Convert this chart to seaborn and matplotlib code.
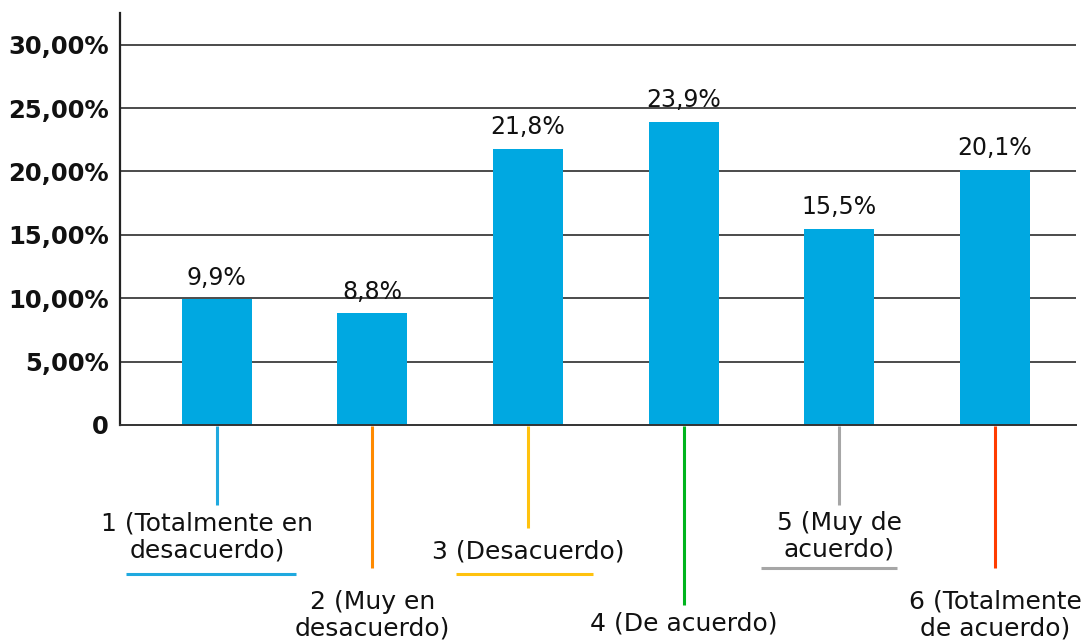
import matplotlib
matplotlib.use("Agg")
import matplotlib.pyplot as plt
import matplotlib.transforms as mtransforms
import seaborn as sns
import pandas as pd

# Survey responses on a 6-point agreement scale
categories = [
    "1 (Totalmente en\ndesacuerdo)",
    "2 (Muy en\ndesacuerdo)",
    "3 (Desacuerdo)",
    "4 (De acuerdo)",
    "5 (Muy de\nacuerdo)",
    "6 (Totalmente\nde acuerdo)",
]
values = [9.9, 8.8, 21.8, 23.9, 15.5, 20.1]
value_labels = ["9,9%", "8,8%", "21,8%", "23,9%", "15,5%", "20,1%"]
y_ticks = [0, 5, 10, 15, 20, 25, 30]
y_tick_labels = ["0", "5,00%", "10,00%", "15,00%", "20,00%", "25,00%", "30,00%"]
leader_colors = ["#1fa9df", "#ff8a00", "#ffc20e", "#00b41e", "#a6a6a6", "#ff3c00"]

sns.set_theme(style="white")
plt.rcParams["font.family"] = ["DejaVu Sans"]

W, H = 1092, 643
fig = plt.figure(figsize=(W / 100, H / 100), dpi=100)
ax = fig.add_axes([120 / W, 1 - 425 / H, (1076 - 120) / W, (425 - 13) / H])

df = pd.DataFrame({"cat": categories, "val": values})
sns.barplot(data=df, x="cat", y="val", color="#00a8e1", saturation=1,
            width=0.45, linewidth=0, ax=ax, zorder=3)

ax.set_xlim(-0.62, 5.52)
ax.set_ylim(0, 32.5)
ax.set_yticks(y_ticks)
ax.set_yticklabels(y_tick_labels, fontsize=17.5, fontweight="bold", color="#111111")
ax.set_xticks([])
ax.set_xlabel("")
ax.set_ylabel("")
ax.tick_params(axis="y", direction="in", length=12, width=1.6, color="#333333", pad=8)

for yv in y_ticks[1:]:
    ax.axhline(yv, color="#1a1a1a", lw=1.1, zorder=1)

for side in ["top", "right"]:
    ax.spines[side].set_visible(False)
ax.spines["left"].set_color("#222222")
ax.spines["left"].set_linewidth(1.6)
ax.spines["bottom"].set_color("#333333")
ax.spines["bottom"].set_linewidth(1.4)
ax.spines["bottom"].set_zorder(4)

# value labels above bars
for i, (v, lab) in enumerate(zip(values, value_labels)):
    ax.annotate(lab, (i, v), xytext=(0, 7), textcoords="offset points",
                ha="center", va="bottom", fontsize=17, color="#111111")

# category labels hung below the axis on coloured leader lines
trans = mtransforms.blended_transform_factory(ax.transData, fig.transFigure)
def fy(py):
    return 1 - py / H

leader_end = [505, 568, 528, 605, 505, 568]
label_y = [537, 615, 551, 623, 536, 615]
underlines = {0: (-0.58, 0.51, 574), 2: (-0.46, 0.42, 574), 4: (-0.50, 0.37, 568)}

for i, (cat, col) in enumerate(zip(categories, leader_colors)):
    ax.plot([i, i], [fy(426), fy(leader_end[i])], transform=trans, color=col,
            lw=2.2, clip_on=False, solid_capstyle="butt")
    ax.text(i - (0.06 if i == 0 else 0), fy(label_y[i]), cat, transform=trans,
            ha="center", va="center", fontsize=18, color="#111111",
            linespacing=1.13, clip_on=False)
    if i in underlines:
        x0, x1, uy = underlines[i]
        ax.plot([i + x0, i + x1], [fy(uy), fy(uy)], transform=trans, color=col,
                lw=2.2, clip_on=False, solid_capstyle="butt")

fig.savefig("out.png", dpi=100)
